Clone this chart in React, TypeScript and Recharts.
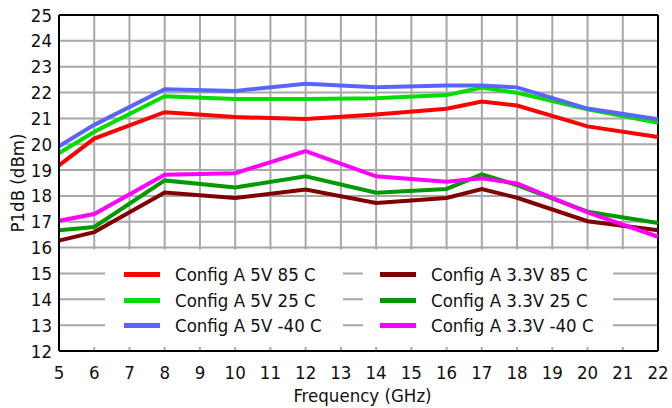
import React from 'react';
import {
  LineChart,
  Line,
  XAxis,
  YAxis,
  CartesianGrid,
  ReferenceArea,
  ReferenceLine,
  Legend,
} from 'recharts';

const freqs = [5, 6, 8, 10, 12, 14, 16, 17, 18, 20, 22];

const a5v85 = [19.18, 20.22, 21.24, 21.05, 20.98, 21.15, 21.37, 21.65, 21.5, 20.69, 20.28];
const a5v25 = [19.65, 20.48, 21.86, 21.75, 21.75, 21.78, 21.9, 22.19, 21.99, 21.35, 20.83];
const a5vm40 = [19.92, 20.75, 22.13, 22.06, 22.34, 22.2, 22.27, 22.27, 22.2, 21.38, 20.97];
const a33v85 = [16.27, 16.6, 18.13, 17.92, 18.25, 17.73, 17.92, 18.27, 17.93, 17.02, 16.67];
const a33v25 = [16.67, 16.8, 18.6, 18.33, 18.76, 18.12, 18.27, 18.83, 18.42, 17.39, 16.95];
const a33vm40 = [17.04, 17.3, 18.82, 18.88, 19.73, 18.76, 18.55, 18.68, 18.48, 17.36, 16.42];

const xTicks = [5, 6, 7, 8, 9, 10, 11, 12, 13, 14, 15, 16, 17, 18, 19, 20, 21, 22];
const yTicks = [12, 13, 14, 15, 16, 17, 18, 19, 20, 21, 22, 23, 24, 25];

const series = [
  { key: 'a5v85', name: 'Config A 5V 85 C', color: '#ff0000', values: a5v85 },
  { key: 'a5v25', name: 'Config A 5V 25 C', color: '#00dd00', values: a5v25 },
  { key: 'a5vm40', name: 'Config A 5V -40 C', color: '#5a64ff', values: a5vm40 },
  { key: 'a33v85', name: 'Config A 3.3V 85 C', color: '#800000', values: a33v85 },
  { key: 'a33v25', name: 'Config A 3.3V 25 C', color: '#009a00', values: a33v25 },
  { key: 'a33vm40', name: 'Config A 3.3V -40 C', color: '#ff00ff', values: a33vm40 },
];

const data = freqs.map((f, i) => {
  const row: Record<string, number> = { f };
  series.forEach((s) => {
    row[s.key] = s.values[i];
  });
  return row;
});

const FONT = "'DejaVu Sans Condensed', 'Liberation Sans', sans-serif";
const GRID = '#a8a8ac';
const tickStyle = { fontSize: 18.5, fill: '#111', fontFamily: FONT };

function LegendBox() {
  const col = (items: typeof series, width: number, pad: number) => (
    <div style={{ display: 'flex', flexDirection: 'column' }}>
      {items.map((s) => (
        <div
          key={s.key}
          style={{
            width,
            height: 25.5,
            background: '#fff',
            display: 'flex',
            alignItems: 'center',
            paddingLeft: pad,
            boxSizing: 'border-box',
          }}
        >
          <span style={{ width: 36, height: 5, background: s.color, marginRight: 15 }} />
          <span style={{ fontFamily: FONT, fontSize: 18.5, color: '#111', whiteSpace: 'nowrap' }}>
            {s.name}
          </span>
        </div>
      ))}
    </div>
  );
  return (
    <div style={{ display: 'flex', gap: 20 }}>
      {col(series.slice(0, 3), 238, 19)}
      {col(series.slice(3), 250, 17)}
    </div>
  );
}

export default function App() {
  return (
    <div style={{ position: 'absolute', left: 0, top: 0, width: 672, height: 408, background: '#fff' }}>
      <LineChart width={672} height={408} data={data} margin={{ top: 15, right: 14, left: 0, bottom: 0 }}>
        <CartesianGrid stroke={GRID} strokeWidth={2} />
        <ReferenceArea x1={5} x2={22} y1={12.15} y2={15.93} fill="#fff" fillOpacity={1} stroke="none" />
        {[13, 14, 15].map((v) => (
          <ReferenceLine key={v} y={v} stroke={GRID} strokeWidth={2} />
        ))}
        <ReferenceLine y={25} stroke="#000" strokeWidth={2} />
        <ReferenceLine x={22} stroke="#000" strokeWidth={2} />
        <XAxis
          type="number"
          dataKey="f"
          domain={[5, 22]}
          ticks={xTicks}
          interval={0}
          height={57}
          tickLine={false}
          tickSize={13}
          tickMargin={2}
          axisLine={{ stroke: '#000', strokeWidth: 2 }}
          tick={tickStyle}
          label={{
            value: 'Frequency (GHz)',
            position: 'insideBottom',
            offset: 6,
            dx: 4,
            style: { fontSize: 18.5, fill: '#111', fontFamily: FONT },
          }}
        />
        <YAxis
          type="number"
          domain={[12, 25]}
          ticks={yTicks}
          interval={0}
          width={59}
          tickLine={false}
          tickSize={5}
          tickMargin={2}
          axisLine={{ stroke: '#000', strokeWidth: 2 }}
          tick={tickStyle}
          label={{
            content: ({ viewBox }: any) => {
              const cx = 17;
              const cy = viewBox.y + viewBox.height / 2;
              return (
                <text
                  x={cx}
                  y={cy}
                  transform={`rotate(-90, ${cx}, ${cy})`}
                  textAnchor="middle"
                  dominantBaseline="central"
                  style={{ fontSize: 18.5, fill: '#111', fontFamily: FONT }}
                >
                  P1dB (dBm)
                </text>
              );
            },
          }}
        />
        {series.map((s) => (
          <Line
            key={s.key}
            type="linear"
            dataKey={s.key}
            name={s.name}
            stroke={s.color}
            strokeWidth={4}
            dot={false}
            activeDot={false}
            isAnimationActive={false}
          />
        ))}
        <Legend
          layout="horizontal"
          verticalAlign="middle"
          align="center"
          wrapperStyle={{ left: 105, top: 262, width: 510 }}
          content={() => <LegendBox />}
        />
      </LineChart>
    </div>
  );
}
